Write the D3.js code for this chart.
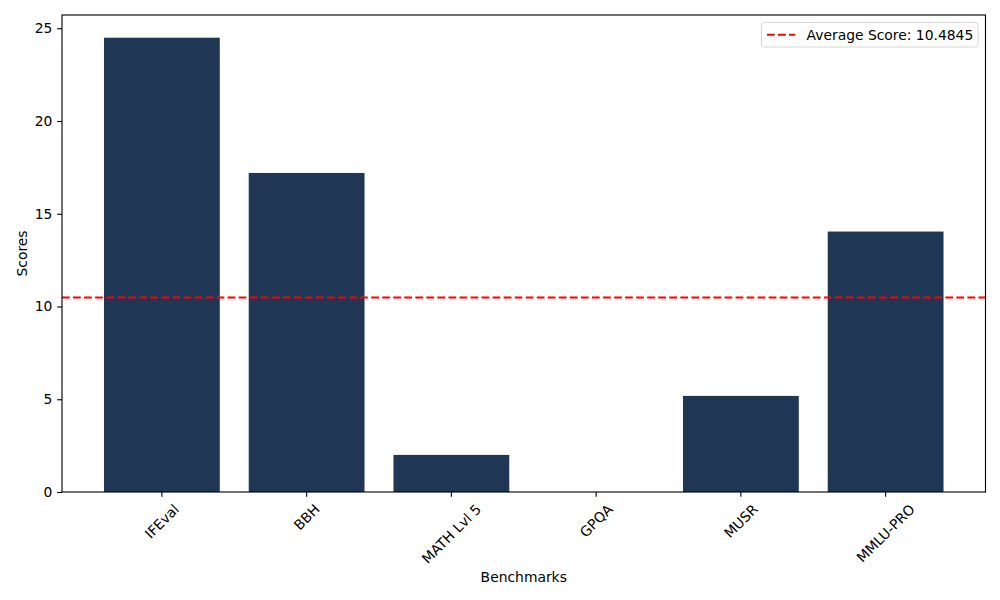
<!DOCTYPE html>
<html>
<head>
<meta charset="utf-8">
<script src="https://cdn.jsdelivr.net/npm/d3@7"></script>
<style>
  body { margin: 0; background: #fff; }
  text { font-family: "DejaVu Sans", sans-serif; }
</style>
</head>
<body>
<div id="chart"></div>
<script>
// Data
var benchmarks = ["IFEval", "BBH", "MATH Lvl 5", "GPQA", "MUSR", "MMLU-PRO"];
var scores = [24.49, 17.2, 2.0, 0.0, 5.18, 14.04];
var yTicks = [0, 5, 10, 15, 20, 25];
var averageScore = 10.4845;

var svgWidth = 1000;
var svgHeight = 600;
var margin = { top: 15, bottom: 108, left: 62, right: 14.5 };
var width = svgWidth - margin.left - margin.right;
var height = svgHeight - margin.top - margin.bottom;

var pt = 100 / 72;
var fontSize = 10 * pt;
var tickLen = 3.5 * pt;
var barColor = "#1f3655";

var svg = d3.select("#chart")
    .append("svg")
    .attr("width", svgWidth)
    .attr("height", svgHeight);

var chartGroup = svg.append("g")
    .attr("transform", `translate(${margin.left}, ${margin.top})`);

// matplotlib-like bar positions: index scale with 0.8 wide bars and 5% margins
var n = benchmarks.length;
var span = (n - 1 + 0.8);
var pad = span * 0.05;
var xLinearScale = d3.scaleLinear()
    .domain([-0.4 - pad, n - 1 + 0.4 + pad])
    .range([0, width]);

var yLinearScale = d3.scaleLinear()
    .domain([0, d3.max(scores) * 1.05])
    .range([height, 0]);

// Bars
chartGroup.selectAll(".bar")
    .data(scores)
    .enter()
    .append("rect")
    .attr("class", "bar")
    .attr("x", (d, i) => xLinearScale(i - 0.4))
    .attr("width", xLinearScale(0.8) - xLinearScale(0))
    .attr("y", d => yLinearScale(d))
    .attr("height", d => height - yLinearScale(d))
    .style("fill", barColor);

// Average line
chartGroup.append("line")
    .attr("x1", 0)
    .attr("x2", width)
    .attr("y1", yLinearScale(averageScore))
    .attr("y2", yLinearScale(averageScore))
    .attr("stroke", "red")
    .attr("stroke-width", 1.5 * pt)
    .attr("stroke-dasharray", `${3.7 * 1.5 * pt} ${1.6 * 1.5 * pt}`);

// Y axis
var leftAxis = d3.axisLeft(yLinearScale)
    .tickValues(yTicks)
    .tickSize(tickLen)
    .tickPadding(3.5 * pt)
    .tickFormat(d3.format("d"));
var yAxis = chartGroup.append("g").call(leftAxis);
yAxis.select(".domain").remove();
yAxis.selectAll("line").attr("stroke", "#000").attr("stroke-width", 0.8 * pt);
yAxis.selectAll("text")
    .attr("font-size", fontSize)
    .attr("font-family", "DejaVu Sans")
    .attr("fill", "#000");

// X axis ticks
var xAxis = chartGroup.append("g")
    .attr("transform", `translate(0, ${height})`);
benchmarks.forEach(function (b, i) {
    var x = xLinearScale(i);
    xAxis.append("line")
        .attr("x1", x).attr("x2", x)
        .attr("y1", 0).attr("y2", tickLen)
        .attr("stroke", "#000")
        .attr("stroke-width", 0.8 * pt);
    var t = xAxis.append("text")
        .attr("font-size", fontSize)
        .attr("text-anchor", "middle")
        .attr("dominant-baseline", "central")
        .attr("fill", "#000")
        .text(b);
    // rotated box centred on tick, top just below tick pad
    var w = t.node().getComputedTextLength();
    var h = fontSize * 1.0;
    var boxH = (w + h) * Math.SQRT1_2;
    var cy = tickLen + 3.5 * pt + boxH / 2;
    t.attr("transform", `translate(${x}, ${cy}) rotate(-45)`);
});

// Frame
chartGroup.append("rect")
    .attr("x", 0).attr("y", 0)
    .attr("width", width).attr("height", height)
    .attr("fill", "none")
    .attr("stroke", "#000")
    .attr("stroke-width", 0.8 * pt);

// Axis labels
svg.append("text")
    .attr("x", margin.left + width / 2)
    .attr("y", 582)
    .attr("text-anchor", "middle")
    .attr("font-size", fontSize)
    .text("Benchmarks");
svg.append("text")
    .attr("transform", `translate(27, ${margin.top + height / 2}) rotate(-90)`)
    .attr("text-anchor", "middle")
    .attr("font-size", fontSize)
    .text("Scores");

// Legend
var legend = svg.append("g").attr("transform", "translate(761.5, 22.5)");
legend.append("rect")
    .attr("width", 216.5).attr("height", 24.5)
    .attr("rx", 3).attr("ry", 3)
    .attr("fill", "#fff")
    .attr("fill-opacity", 0.8)
    .attr("stroke", "#d6d6d6")
    .attr("stroke-width", 1);
legend.append("line")
    .attr("x1", 5.5).attr("x2", 33.5)
    .attr("y1", 12.3).attr("y2", 12.3)
    .attr("stroke", "red")
    .attr("stroke-width", 1.5 * pt)
    .attr("stroke-dasharray", `${3.7 * 1.5 * pt} ${1.6 * 1.5 * pt}`);
legend.append("text")
    .attr("x", 45)
    .attr("y", 12.3)
    .attr("dominant-baseline", "central")
    .attr("font-size", fontSize)
    .text(`Average Score: ${averageScore}`);
</script>
</body>
</html>
